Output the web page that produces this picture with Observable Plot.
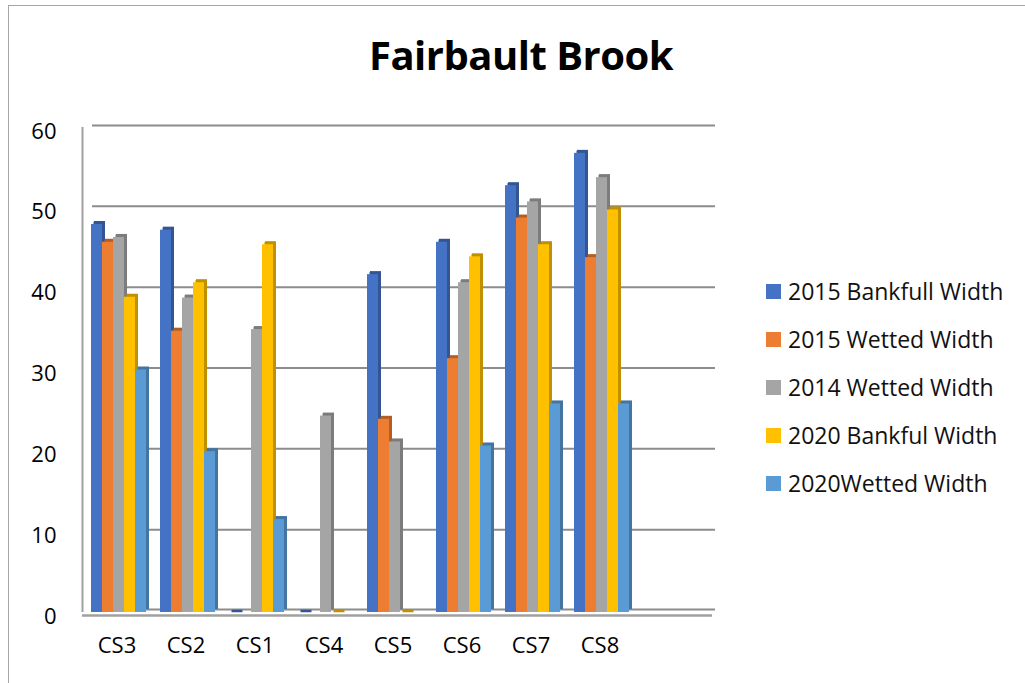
<!DOCTYPE html>
<html>
<head>
<meta charset="utf-8">
<script src="https://cdn.jsdelivr.net/npm/d3@7"></script>
<script src="https://cdn.jsdelivr.net/npm/@observablehq/plot@0.6"></script>
<style>
  html, body { margin: 0; padding: 0; background: #fff; }
  #wrap { position: relative; width: 1025px; height: 683px; overflow: hidden; font-family: "Open Sans", sans-serif; }
  #border { position: absolute; left: 8px; top: 5px; width: 1100px; height: 800px; border: 1.5px solid #a6a6a6; box-sizing: border-box; }
  #chart { position: absolute; left: 0; top: 0; }
  #title { position: absolute; left: 0; width: 1042px; top: 27px; text-align: center; font-weight: 700; font-size: 40px; letter-spacing: -0.5px; color: #000; }
  #legend { position: absolute; left: 766px; top: 267px; }
  .li { display: flex; align-items: center; height: 48px; font-size: 23px; color: #111; white-space: nowrap; }
  .sw { width: 15px; height: 15px; margin-right: 7px; }
</style>
</head>
<body>
<div id="wrap">
  <div id="border"></div>
  <div id="chart"></div>
  <div id="title">Fairbault Brook</div>
  <div id="legend"></div>
</div>
<script>
const categories = ["CS3", "CS2", "CS1", "CS4", "CS5", "CS6", "CS7", "CS8"];
const seriesNames = ["2015 Bankfull Width", "2015 Wetted Width", "2014 Wetted Width", "2020 Bankful Width", "2020Wetted Width"];
const seriesColors = ["#4472C4", "#ED7D31", "#A5A5A5", "#FFC000", "#5B9BD5"];
const bankfull2015 = [48.0, 47.3, 0, 0, 41.8, 45.8, 52.8, 56.8];
const wetted2015 = [45.8, 34.8, null, null, 23.9, 31.4, 48.8, 43.9];
const wetted2014 = [46.4, 38.9, 35.0, 24.3, 21.1, 40.8, 50.8, 53.8];
const bankful2020 = [39.0, 40.8, 45.5, 0, 0, 44.0, 45.5, 49.8];
const wetted2020 = [30.0, 19.9, 11.5, null, null, 20.6, 25.8, 25.8];
const yTicks = [0, 10, 20, 30, 40, 50, 60];

const seriesValues = [bankfull2015, wetted2015, wetted2014, bankful2020, wetted2020];
const xDomain = [...categories, " "];

const barW = 11;
const band = 69;
const inset = (band - barW) / 2;

const marks = [
  Plot.ruleY(yTicks.slice(1), {stroke: "#8c8c8c", strokeWidth: 2, dy: -2, insetLeft: 10}),
  Plot.ruleY([0], {stroke: "#8c8c8c", strokeWidth: 2, dy: -3, insetLeft: 10}),
  Plot.ruleY([0], {stroke: "#a0a0a0", strokeWidth: 2.5, dy: 3, insetRight: 3}),
];

seriesValues.forEach((vals, i) => {
  const rows = categories.map((c, j) => ({cat: c, value: vals[j]})).filter(d => d.value != null);
  const base = d3.color(seriesColors[i]);
  const dark = base.darker(0.8).formatHex();
  const off = (i - 2) * barW + 2;
  marks.push(
    Plot.barY(rows, {x: "cat", y: "value", fill: dark, insetLeft: inset, insetRight: inset, dx: off + 3, dy: -3}),
    Plot.tickY(rows, {x: "cat", y: "value", stroke: dark, strokeWidth: 2.5, insetLeft: inset + 1, insetRight: inset - 1, dx: off + 1.5, dy: -1.5}),
    Plot.barY(rows, {x: "cat", y: "value", fill: seriesColors[i], insetLeft: inset, insetRight: inset, dx: off})
  );
});

const chart = Plot.plot({
  width: 1025,
  height: 683,
  marginLeft: 82,
  marginRight: 310,
  marginTop: 127,
  marginBottom: 71,
  style: {fontFamily: "'Open Sans', sans-serif", fontSize: "21px", background: "transparent", color: "#000"},
  x: {type: "band", domain: xDomain, range: [82, 82 + band * xDomain.length], padding: 0, label: null},
  y: {domain: [0, 60], label: null, line: true},
  marks: [
    ...marks,
    Plot.axisX({tickSize: 0, tickPadding: 25, fontSize: 22, label: null}),
    Plot.axisY(yTicks, {tickSize: 0, tickPadding: 26, fontSize: 22, label: null, dy: 4}),
    Plot.ruleX([categories[0]], {dx: -band / 2, y1: 0, y2: 60, stroke: "#a0a0a0", strokeWidth: 2})
  ]
});
document.getElementById("chart").appendChild(chart);

const legend = document.getElementById("legend");
seriesNames.forEach((n, i) => {
  const row = document.createElement("div");
  row.className = "li";
  const sw = document.createElement("div");
  sw.className = "sw";
  sw.style.background = seriesColors[i];
  const t = document.createElement("span");
  t.textContent = n;
  row.appendChild(sw);
  row.appendChild(t);
  legend.appendChild(row);
});
</script>
</body>
</html>
